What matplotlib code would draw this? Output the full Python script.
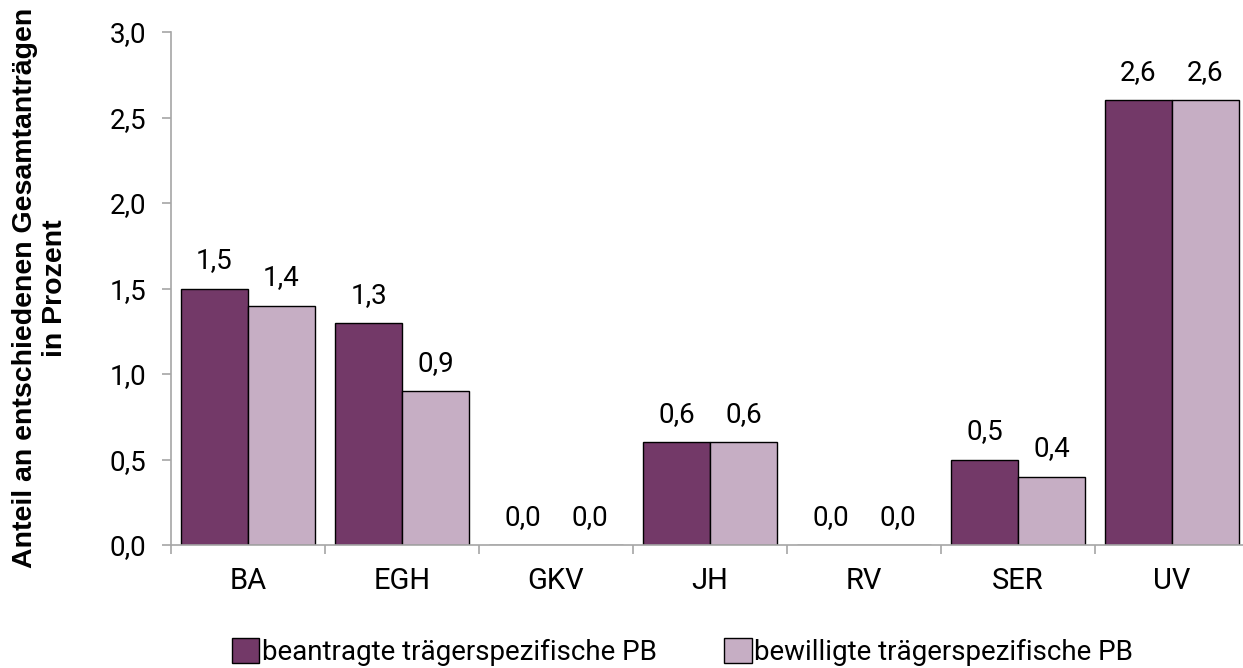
import matplotlib

matplotlib.use("Agg")
import matplotlib.pyplot as plt
import numpy as np

# --- data ---------------------------------------------------------------------------------------
categories = ["BA", "EGH", "GKV", "JH", "RV", "SER", "UV"]
beantragt = [1.5, 1.3, 0.0, 0.6, 0.0, 0.5, 2.6]
bewilligt = [1.4, 0.9, 0.0, 0.6, 0.0, 0.4, 2.6]
series_names = ["beantragte trägerspezifische PB", "bewilligte trägerspezifische PB"]
yticks = [0.0, 0.5, 1.0, 1.5, 2.0, 2.5, 3.0]

DARK, LIGHT, GRID = "#733968", "#c6aec4", "#a6a6a6"
plt.rcParams["font.family"] = ["Roboto", "DejaVu Sans"]

fig = plt.figure(figsize=(12.43, 6.68), dpi=100)
ax = fig.add_axes([171 / 1243, 123 / 668, 1078 / 1243, 513 / 668])

x = np.arange(len(categories))
w = 0.435
b1 = ax.bar(x - w / 2, beantragt, w, color=DARK, edgecolor="black", linewidth=1, label=series_names[0])
b2 = ax.bar(x + w / 2, bewilligt, w, color=LIGHT, edgecolor="black", linewidth=1, label=series_names[1])
for bars in (b1, b2):
    for r in bars:
        v = r.get_height()
        ax.annotate(f"{v:.1f}".replace(".", ","), (r.get_x() + r.get_width() / 2, v),
                    xytext=(0, 14.5), textcoords="offset points", ha="center", va="baseline", fontsize=20)

ax.set_xlim(-0.5, len(categories) - 0.5)
ax.set_ylim(0, 3.0)
ax.set_yticks(yticks)
ax.set_yticklabels([f"{t:.1f}".replace(".", ",") for t in yticks])
# category boundaries get the ticks, names sit in between
ax.set_xticks(np.arange(len(categories) + 1) - 0.5)
ax.set_xticklabels([])
ax.set_xticks(x, minor=True)
ax.set_xticklabels(categories, minor=True)
ax.tick_params(axis="x", which="major", length=6.5, color=GRID, width=1.2)
ax.tick_params(axis="x", which="minor", length=0, pad=16, labelsize=21)
ax.tick_params(axis="y", length=6.5, color=GRID, width=1.2, labelsize=20, pad=11)
for s in ("top", "right"):
    ax.spines[s].set_visible(False)
for s in ("left", "bottom"):
    ax.spines[s].set_color(GRID)
    ax.spines[s].set_linewidth(1.2)

fig.text(0.032, 0.569, "Anteil an entschiedenen Gesamtanträgen\nin Prozent", rotation=90, ha="center", va="center",
         fontsize=20.5, fontweight="bold", family=["Liberation Sans", "DejaVu Sans"], linespacing=1.2)

fig.legend(loc="center", bbox_to_anchor=(0.549, 0.024), ncol=2, frameon=False, fontsize=20,
           handlelength=1.0, handleheight=1.0, handletextpad=0.1, columnspacing=2.4, borderaxespad=0)

fig.savefig("out.png", dpi=100)
